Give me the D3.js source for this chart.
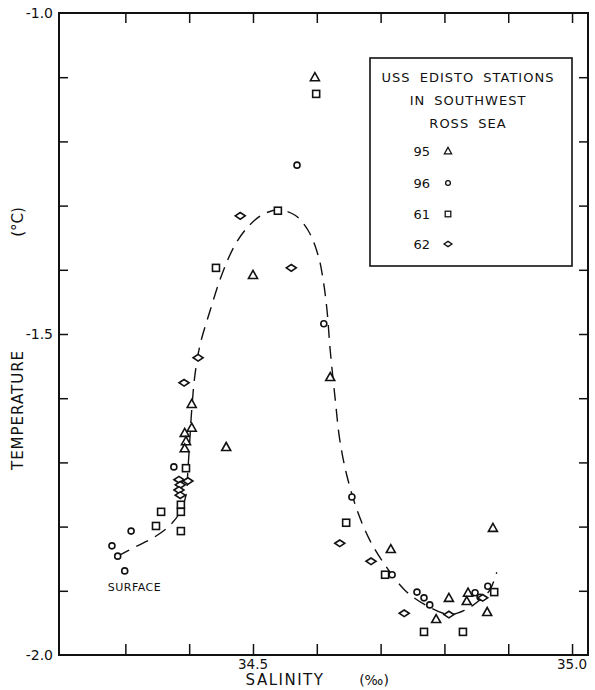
<!DOCTYPE html>
<html><head><meta charset="utf-8">
<script src="https://cdn.jsdelivr.net/npm/d3@7"></script>
<style>body{margin:0;background:#fff}svg text{font-family:"DejaVu Sans",sans-serif;fill:#111}</style>
</head><body><svg id="c" width="595" height="690"></svg>
<script>
// Data (salinity ‰, temperature °C)
const st95 = [[34.597,-1.100],[34.500,-1.408],[34.621,-1.567],[34.404,-1.609],[34.404,-1.646],[34.393,-1.654],[34.395,-1.667],[34.393,-1.678],[34.458,-1.676],[34.716,-1.835],[34.876,-1.802],[34.807,-1.911],[34.837,-1.903],[34.835,-1.916],[34.787,-1.944],[34.867,-1.933]];
const st96 = [[34.569,-1.237],[34.611,-1.484],[34.655,-1.754],[34.376,-1.707],[34.309,-1.807],[34.279,-1.830],[34.288,-1.846],[34.299,-1.869],[34.718,-1.875],[34.757,-1.902],[34.768,-1.911],[34.777,-1.922],[34.848,-1.903],[34.868,-1.893],[34.856,-1.910]];
const st61 = [[34.599,-1.126],[34.539,-1.308],[34.442,-1.397],[34.395,-1.709],[34.387,-1.766],[34.387,-1.777],[34.356,-1.777],[34.348,-1.799],[34.387,-1.807],[34.646,-1.794],[34.707,-1.875],[34.768,-1.964],[34.829,-1.964],[34.878,-1.902]];
const st62 = [[34.480,-1.316],[34.560,-1.397],[34.414,-1.537],[34.392,-1.576],[34.384,-1.727],[34.398,-1.729],[34.386,-1.735],[34.384,-1.743],[34.386,-1.751],[34.636,-1.826],[34.685,-1.854],[34.737,-1.935],[34.807,-1.937],[34.860,-1.911]];
const curve = [[34.288,-1.846],[34.315,-1.832],[34.346,-1.816],[34.370,-1.798],[34.386,-1.777],[34.395,-1.751],[34.398,-1.712],[34.401,-1.665],[34.404,-1.618],[34.409,-1.564],[34.417,-1.517],[34.433,-1.463],[34.451,-1.408],[34.472,-1.361],[34.495,-1.330],[34.519,-1.312],[34.542,-1.307],[34.566,-1.315],[34.586,-1.338],[34.602,-1.377],[34.610,-1.416],[34.616,-1.463],[34.621,-1.525],[34.629,-1.603],[34.636,-1.665],[34.647,-1.720],[34.663,-1.774],[34.683,-1.821],[34.707,-1.860],[34.738,-1.899],[34.770,-1.922],[34.807,-1.937],[34.832,-1.930],[34.856,-1.914],[34.871,-1.899],[34.882,-1.871]];
const xTicks = [34.3,34.4,34.5,34.6,34.7,34.8,34.9,35.0];
const yTicks = [-1.1,-1.2,-1.3,-1.4,-1.5,-1.6,-1.7,-1.8,-1.9];
const xLabels = [34.5,35.0];
const yLabels = [-1.0,-1.5,-2.0];
const legendTitle = ["USS EDISTO STATIONS","IN SOUTHWEST","ROSS SEA"];
const stations = ["95","96","61","62"];

const svg = d3.select("#c");
const x = d3.scaleLinear().domain([34.196,35.025]).range([59,588]);
const y = d3.scaleLinear().domain([-2.0,-1.0]).range([655,13]);
const L=x.range()[0], R=x.range()[1], T=y.range()[1], B=y.range()[0];

// frame
svg.append("rect").attr("x",L).attr("y",T).attr("width",R-L).attr("height",B-T)
  .attr("fill","none").attr("stroke","#111").attr("stroke-width",2);

// ticks via axes (inward)
const gb = svg.append("g").attr("transform",`translate(0,${B})`)
  .call(d3.axisTop(x).tickValues(xTicks).tickSize(11).tickFormat(""));
const gt = svg.append("g").attr("transform",`translate(0,${T})`)
  .call(d3.axisBottom(x).tickValues(xTicks).tickSize(10).tickFormat(""));
const gl = svg.append("g").attr("transform",`translate(${L},0)`)
  .call(d3.axisRight(y).tickValues(yTicks).tickSize(9).tickFormat(""));
const gr = svg.append("g").attr("transform",`translate(${R},0)`)
  .call(d3.axisLeft(y).tickValues(yTicks).tickSize(9).tickFormat(""));
[gb,gt,gl,gr].forEach(g=>{g.select(".domain").remove();g.selectAll("line").attr("stroke","#111").attr("stroke-width",1.5);});

// tick labels
svg.selectAll(".xl").data(xLabels).join("text").attr("x",d=>x(d)).attr("y",B+14)
  .attr("text-anchor","middle").attr("font-size",13.5).text(d=>d.toFixed(1));
svg.selectAll(".yl").data(yLabels).join("text").attr("x",L-6).attr("y",d=>y(d)+5)
  .attr("text-anchor","end").attr("font-size",14).text(d=>d.toFixed(1));

// axis titles
svg.append("text").attr("x",285).attr("y",685).attr("text-anchor","middle").attr("font-size",15)
  .attr("letter-spacing",1.5).text("SALINITY");
svg.append("text").attr("x",374).attr("y",685).attr("text-anchor","middle").attr("font-size",14).text("(‰)");
svg.append("text").attr("transform","translate(23,410) rotate(-90)").attr("text-anchor","middle")
  .attr("font-size",15).attr("letter-spacing",1).text("TEMPERATURE");
svg.append("text").attr("transform","translate(23,222) rotate(-90)").attr("text-anchor","middle")
  .attr("font-size",15).text("(°C)");

// dashed curve
svg.append("path").datum(curve)
  .attr("d",d3.line().x(d=>x(d[0])).y(d=>y(d[1])).curve(d3.curveCatmullRom))
  .attr("fill","none").attr("stroke","#111").attr("stroke-width",1.4).attr("stroke-dasharray","13,8");

// markers
function marker(g,type){
  if(type==="tri") g.append("path").attr("d","M0,-4.5L4.5,3.5L-4.5,3.5Z");
  else if(type==="cir") g.append("circle").attr("r",3);
  else if(type==="sq") g.append("rect").attr("x",-3.5).attr("y",-3.5).attr("width",7).attr("height",7);
  else g.append("path").attr("d","M-5,0L0,-3.3L5,0L0,3.3Z");
  g.selectAll("*").attr("fill","#fff").attr("stroke","#111").attr("stroke-width",1.6);
}
const sets = [[st95,"tri"],[st96,"cir"],[st61,"sq"],[st62,"dia"]];
sets.forEach(([data,type])=>{
  svg.append("g").selectAll("g").data(data).join("g")
    .attr("transform",d=>`translate(${x(d[0])},${y(d[1])})`)
    .each(function(){marker(d3.select(this),type);});
});

// surface label
svg.append("text").attr("x",x(34.288)-10).attr("y",y(-1.846)+35).attr("font-size",11)
  .attr("letter-spacing",0.5).text("SURFACE");

// legend
svg.append("rect").attr("x",370).attr("y",58).attr("width",202).attr("height",208)
  .attr("fill","#fff").attr("stroke","#111").attr("stroke-width",1.6);
legendTitle.forEach((t,i)=>{
  svg.append("text").attr("x",468).attr("y",82+i*23).attr("text-anchor","middle")
    .attr("font-size",13).attr("letter-spacing",1).attr("word-spacing",4).text(t);
});
const types=["tri","cir","sq","dia"], ly=[151,183,214,244];
stations.forEach((s,i)=>{
  svg.append("text").attr("x",430).attr("y",ly[i]+5).attr("text-anchor","end").attr("font-size",13).text(s);
  const g=svg.append("g").attr("transform",`translate(448,${ly[i]})`);
  marker(g,types[i]);
  g.selectAll("*").attr("transform","scale(0.8)");
});
</script></body></html>
